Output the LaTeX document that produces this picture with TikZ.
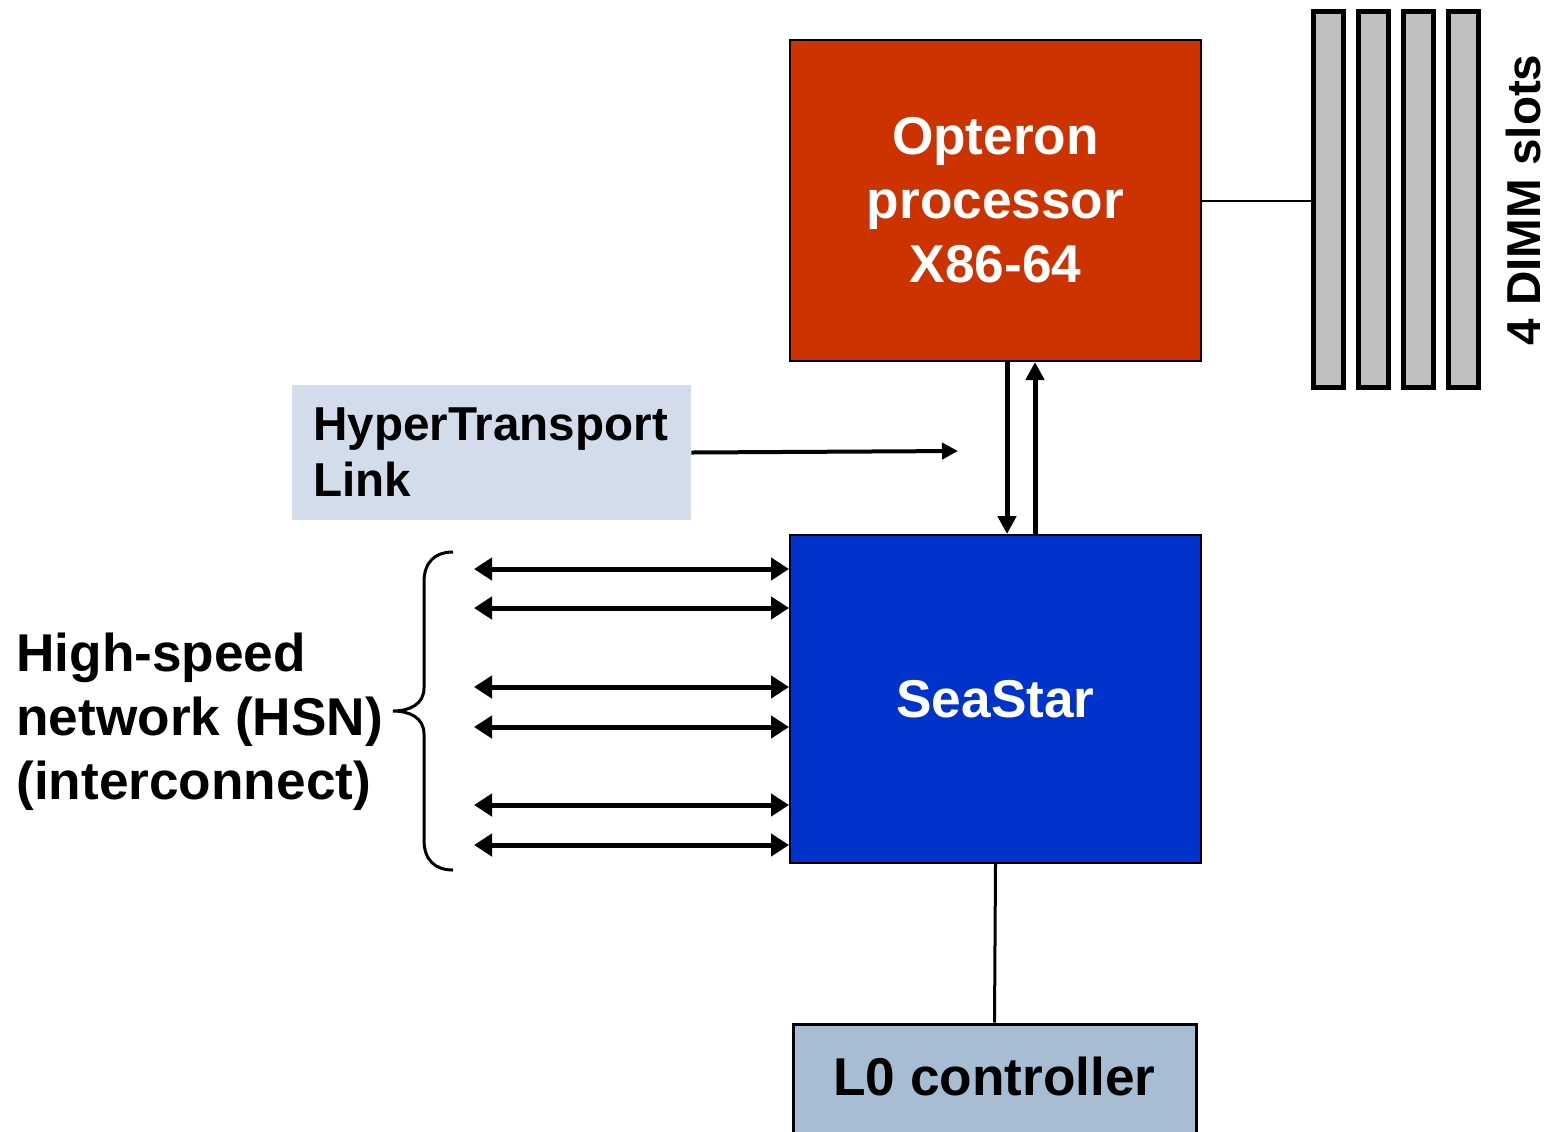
\documentclass[tikz,border=0pt]{standalone}
\usepackage{fontspec}
\setmainfont{Liberation Sans}
\usetikzlibrary{arrows.meta,calc}
\definecolor{opred}{HTML}{CC3300}
\definecolor{ssblue}{HTML}{0033CC}
\definecolor{lzero}{HTML}{A7BDD3}
\definecolor{htbox}{HTML}{D3DCEA}
\definecolor{dimmgray}{HTML}{C0C0C0}
\tikzset{
  bigfont/.style={font=\fontsize{26.6pt}{32pt}\selectfont\bfseries},
  midfont/.style={font=\fontsize{23.8pt}{28pt}\selectfont\bfseries},
  chipbox/.style={draw=black, line width=1pt, text=white, bigfont, align=center, inner sep=0pt},
  dimmbox/.style={draw=black, line width=2.5pt, fill=dimmgray, minimum width=15pt, minimum height=188pt, inner sep=0pt},
  biarrow/.style={line width=2.5pt, {Triangle[length=9pt,width=11pt]}-{Triangle[length=9pt,width=11pt]}},
  varrow/.style={line width=2.5pt, -{Triangle[length=9pt,width=9pt]}},
  htarrow/.style={line width=2pt, -{Triangle[length=8pt,width=8pt]}},
  thinline/.style={line width=1pt},
}
\begin{document}
\begin{tikzpicture}[x=0.5pt,y=-0.5pt]
\useasboundingbox (0,0) rectangle (1551,1131);
% Opteron
\node[chipbox, fill=opred, minimum width=205.5pt, minimum height=160.5pt] (op) at (995.5,200.5)
  {Opteron\\processor\\X86-64};
% SeaStar
\node[chipbox, fill=ssblue, minimum width=205.5pt, minimum height=164pt] (ss) at (995.5,699) {SeaStar};
% L0 controller
\node[draw=black, line width=1.5pt, fill=lzero, bigfont, minimum width=201.5pt, minimum height=56pt, inner sep=0pt, text depth=3.5pt] (l0) at (994.5,1080) {L0 controller\hspace{3pt}};
% HyperTransport
\node[fill=htbox, midfont, minimum width=199.5pt, minimum height=67.5pt, text width=178pt, align=left, inner xsep=10.5pt, inner ysep=0pt] (ht) at (491.5,452.5) {HyperTransport\\Link};
\coordinate (htend) at (958,451);
\draw[htarrow] (ht.east) -- (htend);
% vertical arrows
\draw[varrow] ([xshift=5.75pt]op.south) -- ([xshift=5.75pt]ss.north);
\draw[varrow] ([xshift=19.75pt]ss.north) -- ([xshift=19.75pt]op.south);
% L0 link
\draw[line width=1.5pt] (ss.south) -- (l0.north);
% DIMM slots
\node[dimmbox] (d1) at (1328.5,199.5) {};
\node[dimmbox] (d2) at (1373.5,199.5) {};
\node[dimmbox] (d3) at (1418.5,199.5) {};
\node[dimmbox] (d4) at (1463.5,199.5) {};
\draw[thinline] (op.east) -- (op.east -| d1.west);
\node[midfont, rotate=90] (dimmlabel) at (1523,200) {4 DIMM slots};
% HSN arrows
\foreach \i/\yy in {1/569,2/608,3/687,4/727,5/805,6/845}{
  \coordinate (h\i) at (474,\yy);
  \draw[biarrow] (h\i) -- (h\i -| ss.west);
}
% brace
\coordinate (brtop) at (453,552);
\coordinate (brtip) at (393,711);
\coordinate (brbot) at (453,870);
\draw[line width=1.5pt] (brtop) .. controls (435,552) and (424,562) .. (424,582)
  -- (424,688) .. controls (424,704) and (410,711) .. (brtip)
  .. controls (410,711) and (424,718) .. (424,734)
  -- (424,840) .. controls (424,860) and (435,870) .. (brbot);
% HSN label
\node[bigfont, align=left, anchor=west, inner sep=0pt] (hsn) at (16,722) {High-speed\\network (HSN)\\(interconnect)};
\end{tikzpicture}
\end{document}
